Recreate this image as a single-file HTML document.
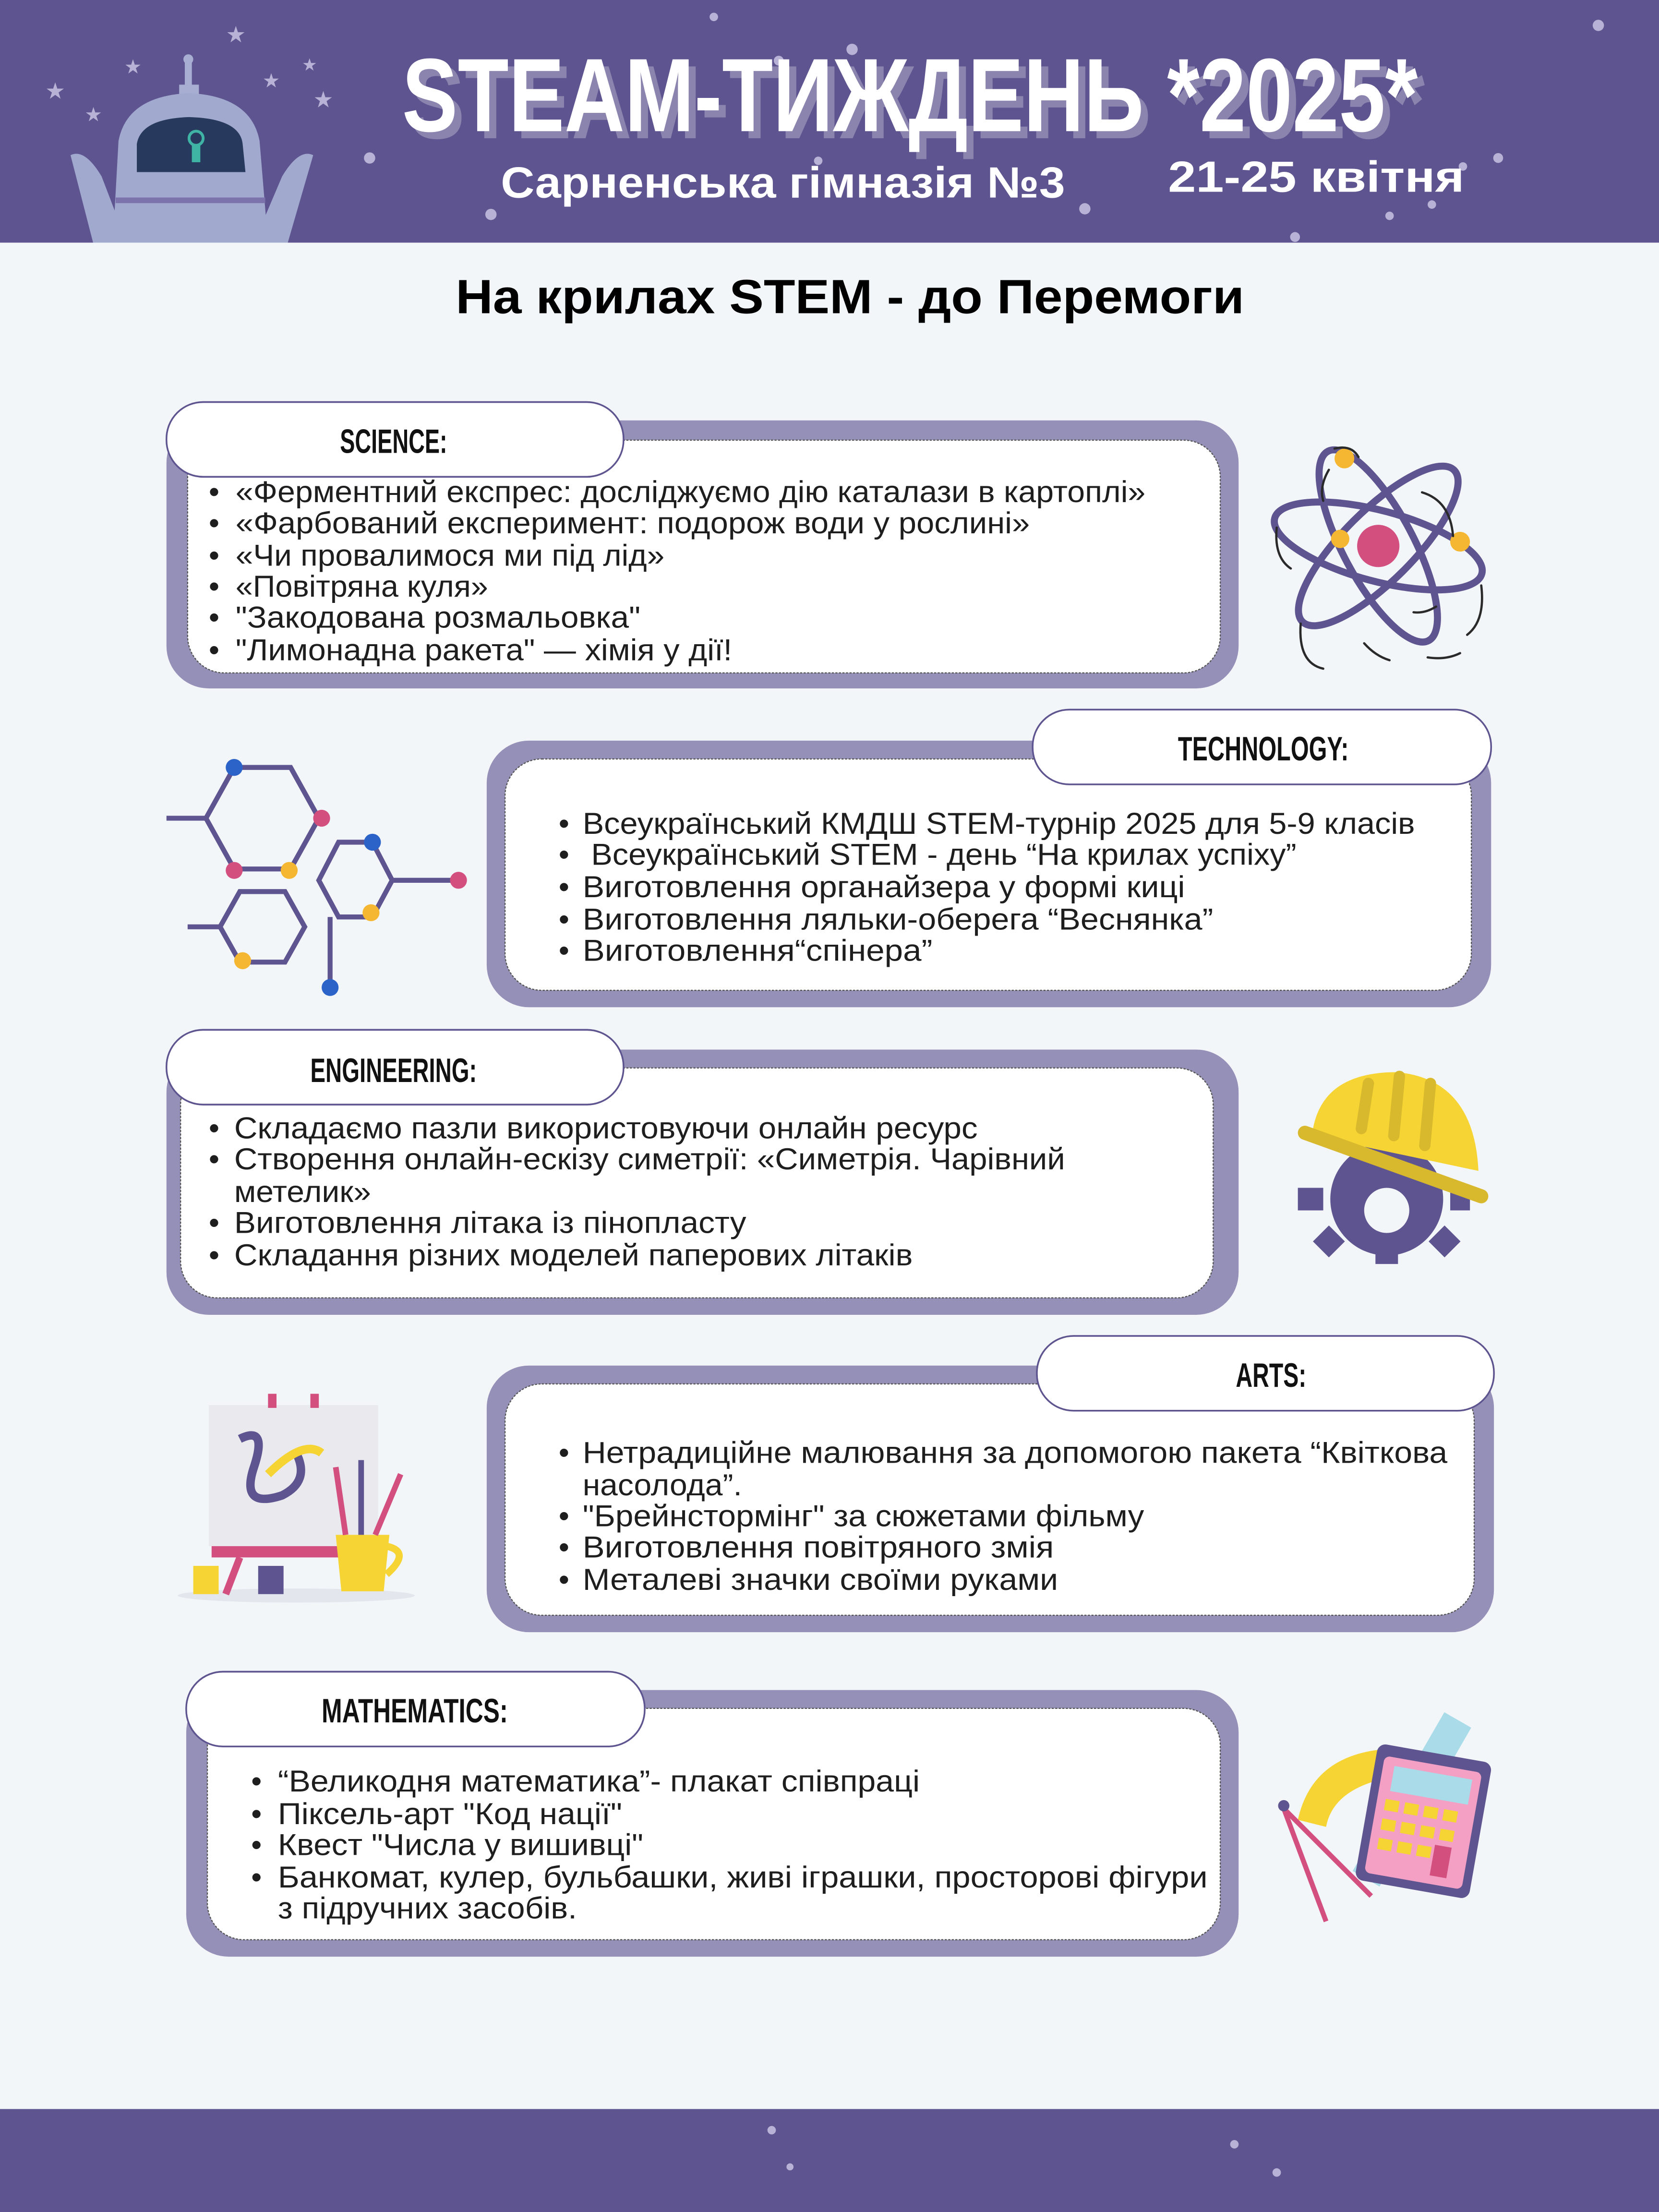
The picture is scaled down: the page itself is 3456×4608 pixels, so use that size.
<!DOCTYPE html>
<html><head><meta charset="utf-8"><style>
html,body{margin:0;padding:0;background:#f3f6f9}
svg{display:block}
.b{font-family:"Liberation Sans","DejaVu Sans",sans-serif;font-size:21.6px;fill:#1e1e1e}
.lab{font-family:"Liberation Sans",sans-serif;font-weight:bold;font-size:24px;fill:#111}
</style></head><body>
<svg width="3456" height="4608" viewBox="0 0 1176 1568" xmlns="http://www.w3.org/2000/svg">
<rect width="1176" height="1568" fill="#f3f6f9"/>
<!-- header -->
<rect width="1176" height="172" fill="#5e5590"/>
<g fill="#b8b3d6">
<circle cx="506" cy="12" r="3"/><circle cx="604" cy="35" r="4"/><circle cx="552" cy="43" r="3.5"/><circle cx="1133" cy="18" r="4"/>
<circle cx="262" cy="112" r="4"/><circle cx="348" cy="152" r="4"/><circle cx="769" cy="148" r="4"/><circle cx="918" cy="168" r="3.5"/>
<circle cx="1062" cy="112" r="3.5"/><circle cx="1037" cy="118" r="3"/><circle cx="580" cy="114" r="3"/>
<circle cx="985" cy="153" r="3"/><circle cx="1015" cy="145" r="3"/>
<text x="160" y="30" font-size="16" fill="#b8b3d6">★</text><text x="88" y="52" font-size="14" fill="#b8b3d6">★</text>
<text x="32" y="70" font-size="16" fill="#b8b3d6">★</text><text x="60" y="86" font-size="14" fill="#b8b3d6">★</text>
<text x="186" y="62" font-size="14" fill="#b8b3d6">★</text><text x="222" y="76" font-size="16" fill="#b8b3d6">★</text>
<text x="214" y="50" font-size="12" fill="#b8b3d6">★</text>
</g>
<!-- robot -->
<g>
<rect x="131" y="40" width="5" height="26" fill="#a7aed2"/><circle cx="133.5" cy="42" r="3.5" fill="#a7aed2"/>
<rect x="127" y="60" width="14" height="8" fill="#a7aed2"/>
<path d="M50 110 Q60 105 72 125 L90 172 L66 172 Z" fill="#a2a9cf"/>
<path d="M222 110 Q212 105 200 125 L180 172 L204 172 Z" fill="#a2a9cf"/>
<path d="M80 172 L84 100 Q90 68 134 66 Q178 68 184 100 L190 172 Z" fill="#a2a9cf"/>
<rect x="82" y="140" width="106" height="4" fill="#7c73ad"/>
<path d="M97 122 L97 102 Q100 84 134 83 Q170 84 172 102 L174 122 Z" fill="#273a5e"/>
<circle cx="139" cy="98" r="5" fill="none" stroke="#3fb4a5" stroke-width="2"/>
<rect x="136" y="103" width="6" height="12" fill="#3fb4a5"/>
</g>
<!-- title -->
<text x="290" y="98" font-family="Liberation Sans,sans-serif" font-size="74" font-weight="bold" fill="#8a84ae" textLength="720" lengthAdjust="spacingAndGlyphs">STEAM-ТИЖДЕНЬ *2025*</text>
<text x="285" y="93" font-family="Liberation Sans,sans-serif" font-size="74" font-weight="bold" fill="#fff" textLength="720" lengthAdjust="spacingAndGlyphs">STEAM-ТИЖДЕНЬ *2025*</text>
<text x="355" y="140" font-family="Liberation Sans,sans-serif" font-size="31" font-weight="bold" fill="#fff" textLength="400" lengthAdjust="spacingAndGlyphs">Сарненська гімназія №3</text>
<text x="828" y="136" font-family="Liberation Sans,sans-serif" font-size="31" font-weight="bold" fill="#fff" textLength="210" lengthAdjust="spacingAndGlyphs">21-25 квітня</text>
<text x="323" y="222" font-family="Liberation Sans,sans-serif" font-size="34" font-weight="bold" fill="#000" textLength="559" lengthAdjust="spacingAndGlyphs">На крилах STEM - до Перемоги</text>

<!-- SCIENCE -->
<rect x="118" y="298" width="760" height="190" rx="30" fill="#9590b8"/>
<rect x="133" y="312" width="732" height="165" rx="26" fill="#fff" stroke="#555" stroke-width="0.8" stroke-dasharray="1.5 1"/>
<rect x="118" y="285" width="324" height="53" rx="26" fill="#fff" stroke="#5e5590" stroke-width="1.2"/>
<text class="lab" x="241" y="321" textLength="76" lengthAdjust="spacingAndGlyphs">SCIENCE:</text>
<g class="b">
<text x="148" y="356">•</text><text x="167" y="356" textLength="645" lengthAdjust="spacingAndGlyphs">«Ферментний експрес: досліджуємо дію каталази в картоплі»</text>
<text x="148" y="378">•</text><text x="167" y="378" textLength="563" lengthAdjust="spacingAndGlyphs">«Фарбований експеримент: подорож води у рослині»</text>
<text x="148" y="401">•</text><text x="167" y="401" textLength="304" lengthAdjust="spacingAndGlyphs">«Чи провалимося ми під лід»</text>
<text x="148" y="423">•</text><text x="167" y="423" textLength="179" lengthAdjust="spacingAndGlyphs">«Повітряна куля»</text>
<text x="148" y="445">•</text><text x="167" y="445" textLength="287" lengthAdjust="spacingAndGlyphs">"Закодована розмальовка"</text>
<text x="148" y="468">•</text><text x="167" y="468" textLength="352" lengthAdjust="spacingAndGlyphs">"Лимонадна ракета" — хімія у дії!</text>
</g>
<!-- atom -->
<g fill="none" stroke="#5e5590" stroke-width="5">
<ellipse cx="977" cy="387" rx="76" ry="25" transform="rotate(15 977 387)"/>
<ellipse cx="977" cy="387" rx="76" ry="25" transform="rotate(62 977 387)"/>
<ellipse cx="977" cy="387" rx="76" ry="25" transform="rotate(-45 977 387)"/>
</g>
<circle cx="977" cy="387" r="15" fill="#d24f7e"/>
<circle cx="953" cy="325" r="7" fill="#f5b731"/><circle cx="950" cy="382" r="6.5" fill="#f5b731"/><circle cx="1035" cy="384" r="7" fill="#f5b731"/>
<g fill="none" stroke="#2a2a2a" stroke-width="1.6" stroke-linecap="round">
<path d="M946 318 Q958 315 963 324"/><path d="M942 333 Q935 345 938 355"/><path d="M1008 349 Q1028 355 1030 380"/>
<path d="M905 374 Q903 395 915 403"/><path d="M1050 415 Q1053 440 1040 450"/><path d="M922 442 Q920 470 938 474"/>
<path d="M1002 434 Q1010 435 1018 430"/><path d="M1012 466 Q1025 468 1035 463"/><path d="M967 456 Q975 465 985 468"/>
</g>

<!-- TECHNOLOGY -->
<rect x="345" y="525" width="712" height="189" rx="30" fill="#9590b8"/>
<rect x="358" y="538" width="685" height="164" rx="26" fill="#fff" stroke="#555" stroke-width="0.8" stroke-dasharray="1.5 1"/>
<rect x="732" y="503" width="325" height="53" rx="26" fill="#fff" stroke="#5e5590" stroke-width="1.2"/>
<text class="lab" x="835" y="539" textLength="121" lengthAdjust="spacingAndGlyphs">TECHNOLOGY:</text>
<g class="b">
<text x="396" y="591">•</text><text x="413" y="591" textLength="590" lengthAdjust="spacingAndGlyphs">Всеукраїнський КМДШ STEM-турнір 2025 для 5-9 класів</text>
<text x="396" y="613">•</text><text x="419" y="613" textLength="500" lengthAdjust="spacingAndGlyphs">Всеукраїнський STEM - день “На крилах успіху”</text>
<text x="396" y="636">•</text><text x="413" y="636" textLength="427" lengthAdjust="spacingAndGlyphs">Виготовлення органайзера у формі киці</text>
<text x="396" y="659">•</text><text x="413" y="659" textLength="447" lengthAdjust="spacingAndGlyphs">Виготовлення ляльки-оберега “Веснянка”</text>
<text x="396" y="681">•</text><text x="413" y="681" textLength="248" lengthAdjust="spacingAndGlyphs">Виготовлення“спінера”</text>
</g>
<!-- molecule -->
<g fill="none" stroke="#5e5590" stroke-width="3.5">
<polygon points="166,544 206,544 226,580 206,616 166,616 146,580"/>
<polygon points="240,597 264,597 278,624 264,650 240,650 226,624"/>
<polygon points="170,632 202,632 216,657 202,682 170,682 156,657"/>
<line x1="118" y1="580" x2="146" y2="580"/><line x1="278" y1="624" x2="325" y2="624"/>
<line x1="234" y1="650" x2="234" y2="700"/><line x1="133" y1="657" x2="156" y2="657"/>
</g>
<g>
<circle cx="166" cy="544" r="6" fill="#2b63c9"/><circle cx="228" cy="580" r="6" fill="#d24f7e"/>
<circle cx="166" cy="617" r="6" fill="#d24f7e"/><circle cx="205" cy="617" r="6" fill="#f5b731"/>
<circle cx="264" cy="597" r="6" fill="#2b63c9"/><circle cx="263" cy="647" r="6" fill="#f5b731"/>
<circle cx="325" cy="624" r="6" fill="#d24f7e"/><circle cx="234" cy="700" r="6" fill="#2b63c9"/>
<circle cx="172" cy="681" r="6" fill="#f5b731"/>
</g>

<!-- ENGINEERING -->
<rect x="118" y="744" width="760" height="188" rx="30" fill="#9590b8"/>
<rect x="128" y="757" width="732" height="163" rx="26" fill="#fff" stroke="#555" stroke-width="0.8" stroke-dasharray="1.5 1"/>
<rect x="118" y="730" width="324" height="53" rx="26" fill="#fff" stroke="#5e5590" stroke-width="1.2"/>
<text class="lab" x="220" y="767" textLength="118" lengthAdjust="spacingAndGlyphs">ENGINEERING:</text>
<g class="b">
<text x="148" y="807">•</text><text x="166" y="807" textLength="527" lengthAdjust="spacingAndGlyphs">Складаємо пазли використовуючи онлайн ресурс</text>
<text x="148" y="829">•</text><text x="166" y="829" textLength="589" lengthAdjust="spacingAndGlyphs">Створення онлайн-ескізу симетрії: «Симетрія. Чарівний</text>
<text x="166" y="852" textLength="97" lengthAdjust="spacingAndGlyphs">метелик»</text>
<text x="148" y="874">•</text><text x="166" y="874" textLength="363" lengthAdjust="spacingAndGlyphs">Виготовлення літака із пінопласту</text>
<text x="148" y="897">•</text><text x="166" y="897" textLength="481" lengthAdjust="spacingAndGlyphs">Складання різних моделей паперових літаків</text>
</g>
<!-- helmet gear -->
<g>
<circle cx="983" cy="850" r="40" fill="#5e5590"/>
<g fill="#5e5590">
<rect x="975" y="800" width="16" height="18"/><rect x="975" y="882" width="16" height="14"/>
<rect x="920" y="842" width="18" height="16"/><rect x="1028" y="842" width="14" height="16"/>
<rect x="934" y="872" width="16" height="16" transform="rotate(45 942 880)"/><rect x="1016" y="872" width="16" height="16" transform="rotate(45 1024 880)"/>
</g>
<circle cx="983" cy="858" r="16" fill="#f3f6f9"/>
<path d="M930 805 Q935 760 990 760 Q1045 765 1048 830 Z" fill="#f5d433"/>
<line x1="925" y1="803" x2="1050" y2="848" stroke="#d8b82c" stroke-width="10" stroke-linecap="round"/>
<g stroke="#d8b82c" stroke-width="8" stroke-linecap="round"><line x1="970" y1="768" x2="965" y2="800"/><line x1="992" y1="763" x2="988" y2="805"/><line x1="1014" y1="768" x2="1010" y2="812"/></g>
</g>

<!-- ARTS -->
<rect x="345" y="968" width="714" height="189" rx="30" fill="#9590b8"/>
<rect x="358" y="981" width="687" height="164" rx="26" fill="#fff" stroke="#555" stroke-width="0.8" stroke-dasharray="1.5 1"/>
<rect x="735" y="947" width="324" height="53" rx="26" fill="#fff" stroke="#5e5590" stroke-width="1.2"/>
<text class="lab" x="876" y="983" textLength="50" lengthAdjust="spacingAndGlyphs">ARTS:</text>
<g class="b">
<text x="396" y="1037">•</text><text x="413" y="1037" textLength="613" lengthAdjust="spacingAndGlyphs">Нетрадиційне малювання за допомогою пакета “Квіткова</text>
<text x="413" y="1060" textLength="113" lengthAdjust="spacingAndGlyphs">насолода”.</text>
<text x="396" y="1082">•</text><text x="413" y="1082" textLength="398" lengthAdjust="spacingAndGlyphs">"Брейнстормінг" за сюжетами фільму</text>
<text x="396" y="1104">•</text><text x="413" y="1104" textLength="334" lengthAdjust="spacingAndGlyphs">Виготовлення повітряного змія</text>
<text x="396" y="1127">•</text><text x="413" y="1127" textLength="337" lengthAdjust="spacingAndGlyphs">Металеві значки своїми руками</text>
</g>
<!-- easel -->
<g>
<ellipse cx="210" cy="1131" rx="84" ry="5" fill="#e4e6ee"/>
<rect x="148" y="996" width="120" height="100" fill="#e9e9ee"/>
<rect x="190" y="988" width="6" height="10" fill="#d24f7e"/><rect x="220" y="988" width="6" height="10" fill="#d24f7e"/>
<path d="M170 1020 Q190 1010 180 1040 Q170 1070 200 1060 Q220 1050 210 1030" fill="none" stroke="#5e5590" stroke-width="6"/>
<path d="M190 1045 Q215 1020 228 1030" fill="none" stroke="#f5d433" stroke-width="6"/>
<rect x="150" y="1096" width="110" height="8" fill="#d24f7e"/>
<line x1="170" y1="1104" x2="160" y2="1130" stroke="#d24f7e" stroke-width="5"/>
<rect x="137" y="1110" width="18" height="20" fill="#f5d433"/><rect x="183" y="1110" width="18" height="20" fill="#5e5590"/>
<path d="M238 1088 L276 1088 L272 1128 L242 1128 Z" fill="#f5d433"/>
<path d="M274 1096 Q292 1100 274 1116" fill="none" stroke="#f5d433" stroke-width="5"/>
<g stroke-width="4"><line x1="245" y1="1088" x2="238" y2="1040" stroke="#d24f7e"/><line x1="256" y1="1088" x2="256" y2="1035" stroke="#5e5590"/><line x1="266" y1="1088" x2="284" y2="1045" stroke="#d24f7e"/></g>
</g>

<!-- MATHEMATICS -->
<rect x="132" y="1198" width="746" height="189" rx="30" fill="#9590b8"/>
<rect x="147" y="1211" width="718" height="164" rx="26" fill="#fff" stroke="#555" stroke-width="0.8" stroke-dasharray="1.5 1"/>
<rect x="132" y="1185" width="325" height="53" rx="26" fill="#fff" stroke="#5e5590" stroke-width="1.2"/>
<text class="lab" x="228" y="1221" textLength="132" lengthAdjust="spacingAndGlyphs">MATHEMATICS:</text>
<g class="b">
<text x="178" y="1270">•</text><text x="197" y="1270" textLength="455" lengthAdjust="spacingAndGlyphs">“Великодня математика”- плакат співпраці</text>
<text x="178" y="1293">•</text><text x="197" y="1293" textLength="244" lengthAdjust="spacingAndGlyphs">Піксель-арт "Код нації"</text>
<text x="178" y="1315">•</text><text x="197" y="1315" textLength="259" lengthAdjust="spacingAndGlyphs">Квест "Числа у вишивці"</text>
<text x="178" y="1338">•</text><text x="197" y="1338" textLength="659" lengthAdjust="spacingAndGlyphs">Банкомат, кулер, бульбашки,  живі іграшки, просторові фігури</text>
<text x="197" y="1360" textLength="212" lengthAdjust="spacingAndGlyphs">з підручних засобів.</text>
</g>
<!-- math icon -->
<g>
<rect x="990" y="1210" width="22" height="130" fill="#a9dbe9" transform="rotate(30 1000 1275)"/>
<path d="M920 1290 Q930 1245 980 1240 L985 1260 Q945 1268 940 1295 Z" fill="#f5d433"/>
<rect x="968" y="1242" width="82" height="98" rx="6" fill="#5e5590" transform="rotate(10 1009 1291)"/>
<rect x="974" y="1250" width="70" height="84" rx="4" fill="#f4a0c4" transform="rotate(10 1009 1291)"/>
<rect x="982" y="1256" width="56" height="18" fill="#a9dbe9" transform="rotate(10 1009 1291)"/>
<g fill="#f5d433" transform="rotate(10 1009 1291)">
<rect x="980" y="1280" width="10" height="8"/><rect x="994" y="1280" width="10" height="8"/><rect x="1008" y="1280" width="10" height="8"/><rect x="1022" y="1280" width="10" height="8"/>
<rect x="980" y="1294" width="10" height="8"/><rect x="994" y="1294" width="10" height="8"/><rect x="1008" y="1294" width="10" height="8"/><rect x="1022" y="1294" width="10" height="8"/>
<rect x="980" y="1308" width="10" height="8"/><rect x="994" y="1308" width="10" height="8"/><rect x="1008" y="1308" width="10" height="8"/>
</g>
<rect x="1020" y="1306" width="12" height="22" fill="#d24f7e" transform="rotate(10 1009 1291)"/>
<g stroke="#d24f7e" stroke-width="3.5"><line x1="910" y1="1282" x2="940" y2="1362"/><line x1="910" y1="1282" x2="972" y2="1344"/></g>
<circle cx="910" cy="1280" r="4" fill="#5e5590"/>
</g>

<!-- footer -->
<rect x="0" y="1495" width="1176" height="73" fill="#5e5590"/>
<g fill="#b8b3d6"><circle cx="547" cy="1510" r="3"/><circle cx="875" cy="1520" r="3"/><circle cx="905" cy="1540" r="3"/><circle cx="560" cy="1536" r="2.5"/></g>
</svg>
</body></html>
